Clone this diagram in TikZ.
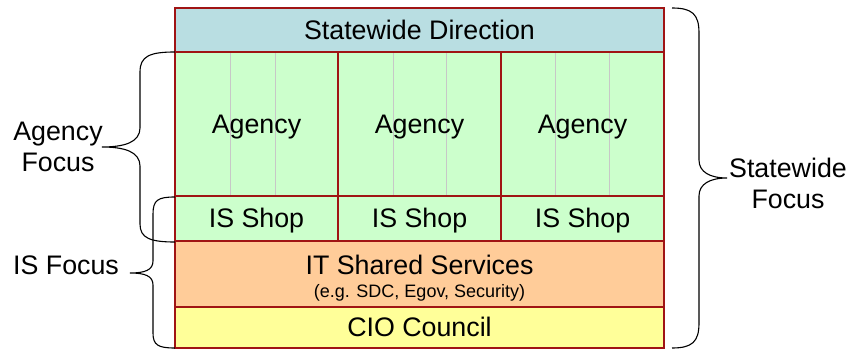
\documentclass[tikz,border=0pt]{standalone}
\usepackage{fontspec}
\setmainfont{Liberation Sans}
\usepackage{tikz}
\usetikzlibrary{calc}
\definecolor{dirblue}{RGB}{185,222,226}
\definecolor{agencygreen}{RGB}{204,255,204}
\definecolor{sharedorange}{RGB}{255,204,153}
\definecolor{cioyellow}{RGB}{255,255,153}
\definecolor{boxred}{RGB}{160,20,20}
\tikzstyle{every node}=[font=\fontsize{26.8}{31}\selectfont]
\tikzstyle{line}=[text height=24.3pt, text depth=5.7pt]
\tikzstyle{band}=[line, draw=boxred, line width=1.3pt, inner sep=0pt, outer sep=0pt, anchor=north west]
\tikzstyle{divider}=[draw=black!22, line width=0.9pt]
\tikzstyle{brace}=[draw=black, line width=1.1pt]

\begin{document}
\begin{tikzpicture}[x=1pt,y=-1pt]
	\useasboundingbox (0,0) rectangle (852,350);
	% stacked layers, top to bottom
	\node[band, fill=dirblue, minimum width=489, minimum height=44] (direction) at (175,8) {Statewide Direction};
	\node[band, fill=agencygreen, minimum width=163, minimum height=144] (agency1) at (175,52) {};
	\node[band, fill=agencygreen, minimum width=163, minimum height=144] (agency2) at (338,52) {};
	\node[band, fill=agencygreen, minimum width=163, minimum height=144] (agency3) at (501,52) {};
	\draw[divider] ($(agency1.north west)+(55,0)$) -- ($(agency1.south west)+(55,0)$); \draw[divider] ($(agency1.north west)+(100,0)$) -- ($(agency1.south west)+(100,0)$);
	\draw[divider] ($(agency2.north west)+(55,0)$) -- ($(agency2.south west)+(55,0)$); \draw[divider] ($(agency2.north west)+(108,0)$) -- ($(agency2.south west)+(108,0)$);
	\draw[divider] ($(agency3.north west)+(54,0)$) -- ($(agency3.south west)+(54,0)$); \draw[divider] ($(agency3.north west)+(108,0)$) -- ($(agency3.south west)+(108,0)$);
	\draw[boxred, line width=1.3pt] (agency1.north west) rectangle (agency3.south east); \draw[boxred, line width=1.3pt] (agency2.north west) -- (agency2.south west); \draw[boxred, line width=1.3pt] (agency3.north west) -- (agency3.south west);
	\node[line] (agencytext1) at (agency1.center) {Agency};
	\node[line] (agencytext2) at (agency2.center) {Agency};
	\node[line] (agencytext3) at (agency3.center) {Agency};
	\node[band, fill=agencygreen, minimum width=163, minimum height=45] (shop1) at (175,196) {IS Shop};
	\node[band, fill=agencygreen, minimum width=163, minimum height=45] (shop2) at (338,196) {IS Shop};
	\node[band, fill=agencygreen, minimum width=163, minimum height=45] (shop3) at (501,196) {IS Shop};
	\node[band, fill=sharedorange, minimum width=489, minimum height=66] (shared) at (175,241) {};
	\node[anchor=base] (sharedtitle) at ($(shared.north)+(0,33)$) {IT Shared Services};
	\node[anchor=base, font=\fontsize{18}{20}\selectfont] (sharednote) at ($(shared.north)+(0,56)$) {(e.g. SDC, Egov, Security)};
	\node[band, fill=cioyellow, minimum width=489, minimum height=41] (cio) at (175,307) {CIO Council};
	% braces on the left
	\draw[brace] (175,52) .. controls (150,52) and (140,56) .. (140,72) -- (140,128) .. controls (140,142) and (125,147) .. (102,147) .. controls (125,147) and (140,152) .. (140,166) -- (140,224) .. controls (140,238) and (150,242) .. (175,242);
	\draw[brace] (175,197) .. controls (158,197) and (153,200) .. (153,214) -- (153,261) .. controls (153,270) and (145,273) .. (130,273) .. controls (145,273) and (153,276) .. (153,285) -- (153,333) .. controls (153,345) and (158,348) .. (175,348);
	% brace on the right
	\draw[brace] (672,8) .. controls (692,8) and (699,14) .. (699,33) -- (699,160) .. controls (699,172) and (710,178) .. (727,178) .. controls (710,178) and (699,184) .. (699,196) -- (699,323) .. controls (699,342) and (692,348) .. (672,348);
	\node[align=center] (agencyfocus) at (58,147) {Agency\\Focus};
	\node[anchor=base] (isfocus) at (66,274) {IS Focus};
	\node[align=center] (statefocus) at (788,183) {Statewide\\Focus};
\end{tikzpicture}
\end{document}
